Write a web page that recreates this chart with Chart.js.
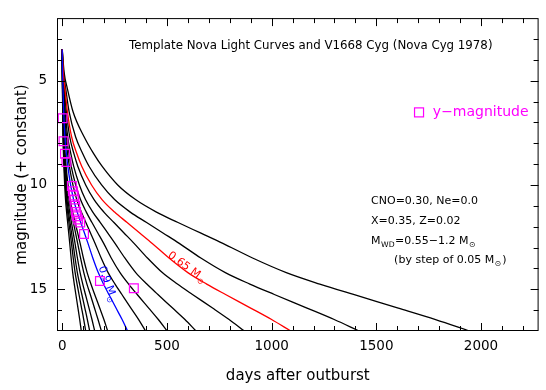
<!DOCTYPE html>
<html>
<head>
<meta charset="utf-8">
<script src="https://cdn.jsdelivr.net/npm/chart.js@4.4.0/dist/chart.umd.min.js"></script>
<style>
html, body { margin: 0; padding: 0; background: #fff; }
</style>
</head>
<body>
<canvas id="lc" width="546" height="390"></canvas>
<script>
// magnitude levels shared by every template curve
const magLevels = [3.5, 4.6, 5.4, 6.5, 7.7, 8.5, 9.1, 10.0, 10.7, 11.3, 11.8, 12.3, 12.8, 13.5, 14.2, 14.75, 15.25, 15.9, 16.45, 17.0];

// days after outburst at which each WD mass reaches the levels above
const d120 = [0, 0.4, 1.1, 2.1, 3.8, 5.8, 7.8, 11.7, 15.8, 20.9, 25.9, 30.9, 35.9, 42.5, 50, 57.5, 65.1, 75.1, 83.4, 91];
const d115 = [0, 0.5, 1.3, 2.6, 4.6, 7.2, 9.6, 14.4, 19.5, 25.7, 31.8, 38, 44.2, 52.4, 61.6, 70.9, 80.1, 92.4, 102.7, 112];
const d110 = [0, 0.6, 1.6, 3, 5.4, 8.4, 11.2, 16.8, 22.8, 30, 37.2, 44.4, 51.6, 61.3, 72.1, 82.9, 93.7, 108, 120, 131];
const d105 = [0, 0.7, 1.8, 3.6, 6.4, 9.9, 13.2, 19.9, 27, 35.5, 44.1, 52.6, 61.1, 72.5, 85.3, 98, 111, 128, 142, 155];
const d100 = [0, 0.9, 2.2, 4.3, 7.7, 12, 15.9, 24, 32.6, 42.9, 53.1, 63.4, 73.7, 87.4, 103, 118, 134, 154, 171, 187];
const d095 = [0, 1, 2.6, 5, 9, 13.9, 18.5, 27.8, 37.8, 49.7, 61.7, 73.6, 85.5, 101, 119, 137, 155, 179, 199, 217];
const d090 = [0, 1.4, 3.7, 7.2, 12.9, 20, 26.6, 40, 54.3, 71.5, 88.7, 106, 123, 146, 172, 197, 223, 257, 286, 312];
const d085 = [0, 1.8, 4.7, 9.1, 16.4, 25.5, 33.9, 51.1, 69.3, 91.2, 113, 135, 157, 186, 219, 252, 285, 328, 365, 398];
const d080 = [0, 2.3, 6, 11.5, 20.7, 32.1, 42.7, 64.3, 87.2, 115, 142, 170, 198, 234, 276, 317, 358, 413, 459, 501];
const d075 = [0, 2.9, 7.6, 14.6, 26.4, 41, 54.5, 82, 111, 146, 182, 217, 252, 299, 351, 404, 457, 527, 586, 639];
const d070 = [0, 4, 10.4, 19.9, 35.9, 55.8, 74.2, 112, 152, 199, 247, 295, 343, 407, 478, 550, 622, 718, 797, 870];
const d065 = [0, 5, 13, 25, 45, 70, 93, 140, 190, 250, 310, 370, 430, 510, 600, 690, 780, 900, 1000, 1091];
const d060 = [0, 6.5, 16.9, 33, 64, 98, 128, 188, 250, 325, 403, 481, 559, 662, 779, 896, 1013, 1169, 1299, 1417];
const d055 = [0, 9, 25, 52, 105, 150, 190, 265, 350, 450, 553, 660, 767, 909, 1070, 1230, 1391, 1605, 1783, 1945];

const masses = ['1.2', '1.15', '1.1', '1.05', '1.0', '0.95', '0.9', '0.85', '0.8', '0.75', '0.7', '0.65', '0.6', '0.55'];
const curveDays = [d120, d115, d110, d105, d100, d095, d090, d085, d080, d075, d070, d065, d060, d055];

// V1668 Cyg y magnitudes
const obsDays = [2, 6, 13, 20, 46, 51, 55, 58, 62, 66, 70, 76, 86, 104, 180, 342];
const obsMags = [6.8, 7.9, 8.5, 8.9, 10.05, 10.3, 10.5, 10.7, 11.0, 11.3, 11.5, 11.65, 11.8, 12.35, 14.6, 14.95];

const xTicks = [0, 500, 1000, 1500, 2000];
const yTicks = [5, 10, 15];

const FONT = 'DejaVu Sans';
const MAGENTA = '#ff00ff';

function curveColor(m) {
    if (m === '0.65') return '#ff0000';
    if (m === '0.9') return '#0000ff';
    return '#000000';
}

const datasets = masses.map((m, k) => ({
    label: m + ' Msun',
    data: curveDays[k].map((d, i) => ({ x: d, y: magLevels[i] })),
    borderColor: curveColor(m),
    borderWidth: 1.3,
    pointRadius: 0,
    fill: false,
    cubicInterpolationMode: 'monotone',
    order: curveColor(m) === '#000000' ? 3 : 2
}));

datasets.push({
    label: 'y-magnitude',
    data: obsDays.map((d, i) => ({ x: d, y: obsMags[i] })),
    showLine: false,
    pointStyle: 'rect',
    pointRadius: 6.2,
    pointBorderWidth: 1.2,
    pointBorderColor: MAGENTA,
    pointBackgroundColor: 'rgba(0,0,0,0)',
    borderColor: MAGENTA,
    order: 1
});

// frame with inward ticks on all four sides
const frameTicks = {
    id: 'frameTicks',
    afterDatasetsDraw(chart) {
        const { ctx, chartArea: a, scales: { x, y } } = chart;
        ctx.save();
        ctx.strokeStyle = '#000';
        ctx.lineWidth = 1;
        ctx.strokeRect(a.left + 0.5, a.top + 0.5, a.right - a.left - 1, a.bottom - a.top - 1);
        ctx.beginPath();
        for (let d = 0; d <= 2200; d += 100) {
            const px = Math.round(x.getPixelForValue(d)) + 0.5;
            const len = d % 500 === 0 ? 8 : 5;
            ctx.moveTo(px, a.bottom); ctx.lineTo(px, a.bottom - len);
            ctx.moveTo(px, a.top); ctx.lineTo(px, a.top + len);
        }
        for (let m = 3; m <= 16; m++) {
            const py = Math.round(y.getPixelForValue(m)) + 0.5;
            const len = m % 5 === 0 ? 8 : 5;
            ctx.moveTo(a.left, py); ctx.lineTo(a.left + len, py);
            ctx.moveTo(a.right, py); ctx.lineTo(a.right - len, py);
        }
        ctx.stroke();
        ctx.restore();
    }
};

// text written inside the plot
function subText(ctx, main, sub, x, y, size) {
    ctx.fillText(main, x, y);
    const w = ctx.measureText(main).width;
    ctx.save();
    ctx.font = (size * 0.7) + 'px "' + FONT + '"';
    ctx.fillText(sub, x + w + 0.5, y + size * 0.35);
    const sw = ctx.measureText(sub).width;
    ctx.restore();
    return w + sw + 1;
}

const annotations = {
    id: 'annotations',
    afterDraw(chart) {
        const { ctx, scales: { x, y } } = chart;
        ctx.save();
        ctx.fillStyle = '#000';
        ctx.textBaseline = 'middle';

        ctx.font = '11.8px "' + FONT + '"';
        ctx.textAlign = 'center';
        ctx.fillText('Template Nova Light Curves and V1668 Cyg (Nova Cyg 1978)', x.getPixelForValue(1187), y.getPixelForValue(3.35));

        ctx.font = '11px "' + FONT + '"';
        ctx.textAlign = 'left';
        const ax = x.getPixelForValue(1475);
        ctx.fillText('CNO=0.30, Ne=0.0', ax, y.getPixelForValue(10.76));
        ctx.fillText('X=0.35, Z=0.02', ax, y.getPixelForValue(11.74));
        let yy = y.getPixelForValue(12.67);
        let w = subText(ctx, 'M', 'WD', ax, yy, 11);
        subText(ctx, '=0.55\u22121.2 M', '\u2299', ax + w, yy, 11);
        subText(ctx, '(by step of 0.05 M', '\u2299', x.getPixelForValue(1585), y.getPixelForValue(13.6), 11);
        ctx.fillText(')', x.getPixelForValue(1585) + ctx.measureText('(by step of 0.05 M').width + 8, y.getPixelForValue(13.6));

        // legend
        const lx = x.getPixelForValue(1704), ly = y.getPixelForValue(6.52);
        ctx.strokeStyle = MAGENTA;
        ctx.lineWidth = 1.2;
        ctx.strokeRect(lx - 4.5, ly - 4.5, 9, 9);
        ctx.fillStyle = MAGENTA;
        ctx.font = '14px "' + FONT + '"';
        ctx.fillText('y\u2212magnitude', x.getPixelForValue(1770), ly);

        // curve labels
        ctx.font = '11px "' + FONT + '"';
        ctx.fillStyle = '#ff0000';
        ctx.save();
        ctx.translate(x.getPixelForValue(598), y.getPixelForValue(13.97));
        ctx.rotate(36 * Math.PI / 180);
        ctx.textAlign = 'left';
        subText(ctx, '0.65 M', '\u2299', -23, 0, 11);
        ctx.restore();

        ctx.fillStyle = '#0000ff';
        ctx.save();
        ctx.translate(x.getPixelForValue(217), y.getPixelForValue(14.76));
        ctx.rotate(70 * Math.PI / 180);
        ctx.textAlign = 'left';
        subText(ctx, '0.9 M', '\u2299', -19, 0, 11);
        ctx.restore();

        ctx.restore();
    }
};

new Chart(document.getElementById('lc'), {
    type: 'line',
    data: { datasets: datasets },
    plugins: [frameTicks, annotations],
    options: {
        responsive: false,
        animation: false,
        layout: { padding: { left: 0, right: 6, top: 9, bottom: 0 } },
        plugins: {
            legend: { display: false },
            tooltip: { enabled: false }
        },
        scales: {
            x: {
                type: 'linear',
                min: -25,
                max: 2275,
                grid: { display: false, drawTicks: false },
                border: { display: false },
                afterBuildTicks: s => { s.ticks = xTicks.map(v => ({ value: v })); },
                afterFit: s => { s.height = 59; },
                ticks: {
                    color: '#000',
                    padding: 7,
                    maxRotation: 0,
                    font: { family: FONT, size: 13.5 },
                    callback: v => String(v)
                },
                title: {
                    display: true,
                    text: 'days after outburst',
                    color: '#000',
                    font: { family: FONT, size: 15 },
                    padding: { top: 0, bottom: 5 }
                }
            },
            y: {
                type: 'linear',
                reverse: true,
                min: 2,
                max: 17,
                grid: { display: false, drawTicks: false },
                border: { display: false },
                afterBuildTicks: s => { s.ticks = yTicks.map(v => ({ value: v })); },
                afterFit: s => { s.width = 57; },
                ticks: {
                    color: '#000',
                    padding: 10,
                    font: { family: FONT, size: 13.5 },
                    callback: v => String(v)
                },
                title: {
                    display: true,
                    text: 'magnitude (+ constant)',
                    color: '#000',
                    font: { family: FONT, size: 15 },
                    padding: { top: 13, bottom: 0 }
                }
            }
        }
    }
});
</script>
</body>
</html>
